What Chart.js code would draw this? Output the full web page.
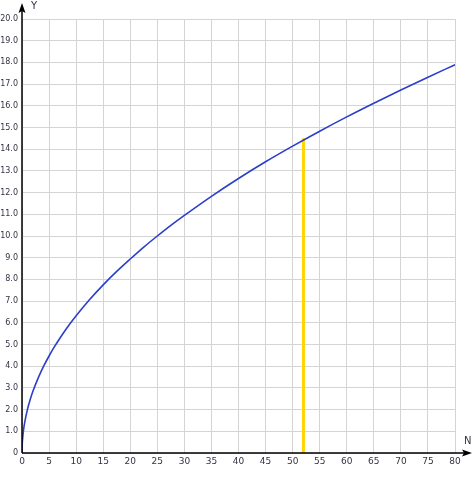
<!DOCTYPE html>
<html>
<head>
<meta charset="utf-8">
<script src="https://cdn.jsdelivr.net/npm/chart.js@4/dist/chart.umd.min.js"></script>
<style>
  html, body { margin: 0; padding: 0; background: #fff; }
  #wrap { width: 474px; height: 482px; position: relative; }
</style>
</head>
<body>
<div id="wrap"><canvas id="chart"></canvas></div>
<script>
// curve values
const nValues = [0, 0.05, 0.1, 0.25, 0.5, 1, 1.5, 2, 3, 4, 5, 6, 7, 8, 10, 12.5, 15, 17.5, 20, 22.5, 25, 27.5, 30, 35, 40, 45, 50, 55, 60, 65, 70, 75, 80];
const yValues = [0, 0.45, 0.63, 1.0, 1.41, 2.0, 2.45, 2.83, 3.46, 4.0, 4.47, 4.9, 5.29, 5.66, 6.32, 7.07, 7.75, 8.37, 8.94, 9.49, 10.0, 10.49, 10.95, 11.83, 12.65, 13.42, 14.14, 14.83, 15.49, 16.12, 16.73, 17.32, 17.89];

// yellow marker line
const markerN = 52;
const markerY = [0, 14.42];

const xMin = 0, xMax = 80, xStep = 5;
const yMin = 0, yMax = 20, yStep = 1;

const curve = nValues.map((n, i) => ({ x: n, y: yValues[i] }));
const marker = markerY.map(v => ({ x: markerN, y: v }));

// axis lines with arrows + axis names
const axesPlugin = {
  id: 'axes',
  afterDatasetsDraw(chart) {
    const { ctx, scales: { x, y } } = chart;
    const x0 = x.getPixelForValue(0);
    const y0 = y.getPixelForValue(0);
    ctx.save();
    ctx.strokeStyle = '#000';
    ctx.fillStyle = '#000';
    ctx.lineWidth = 1.5;
    ctx.beginPath();
    ctx.moveTo(x0, y0);
    ctx.lineTo(x0, 8);
    ctx.moveTo(x0, y0);
    ctx.lineTo(468, y0);
    ctx.stroke();
    // arrow heads
    ctx.beginPath();
    ctx.moveTo(x0, 3);
    ctx.lineTo(x0 - 3.5, 13);
    ctx.lineTo(x0, 11);
    ctx.lineTo(x0 + 3.5, 13);
    ctx.closePath();
    ctx.fill();
    ctx.beginPath();
    ctx.moveTo(472, y0);
    ctx.lineTo(462, y0 - 3.5);
    ctx.lineTo(464, y0);
    ctx.lineTo(462, y0 + 3.5);
    ctx.closePath();
    ctx.fill();
    ctx.fillStyle = '#334';
    ctx.font = '10px "DejaVu Sans", sans-serif';
    ctx.textBaseline = 'middle';
    ctx.fillText('Y', 31, 6);
    ctx.fillText('N', 464, 441);
    ctx.restore();
  }
};

new Chart(document.getElementById('chart'), {
  type: 'scatter',
  data: {
    datasets: [
      {
        data: curve,
        showLine: true,
        borderColor: '#2b3fc9',
        borderWidth: 1.6,
        pointRadius: 0,
        cubicInterpolationMode: 'monotone'
      },
      {
        data: marker,
        showLine: true,
        borderColor: '#ffd600',
        backgroundColor: '#ffd600',
        borderWidth: 3,
        pointRadius: 2,
        pointBorderWidth: 0
      }
    ]
  },
  options: {
    responsive: true,
    maintainAspectRatio: false,
    animation: false,
    layout: { padding: { left: 0, right: 19, top: 19, bottom: 0 } },
    plugins: { legend: { display: false }, tooltip: { enabled: false } },
    scales: {
      x: {
        type: 'linear',
        min: xMin, max: xMax,
        afterFit: s => { s.height = 29; },
        ticks: {
          stepSize: xStep,
          padding: 3,
          color: '#334',
          maxRotation: 0,
          font: { size: 9, family: '"DejaVu Sans", sans-serif' }
        },
        grid: { color: '#d4d4d4', lineWidth: 1, drawTicks: false },
        border: { display: false }
      },
      y: {
        min: yMin, max: yMax,
        afterFit: s => { s.width = 22; },
        ticks: {
          stepSize: yStep,
          padding: 4,
          color: '#334',
          font: { size: 8, family: '"DejaVu Sans", sans-serif' },
          callback: v => v === 0 ? '0' : v.toFixed(1)
        },
        grid: { color: '#d4d4d4', lineWidth: 1, drawTicks: false },
        border: { display: false }
      }
    }
  },
  plugins: [axesPlugin]
});
</script>
</body>
</html>
